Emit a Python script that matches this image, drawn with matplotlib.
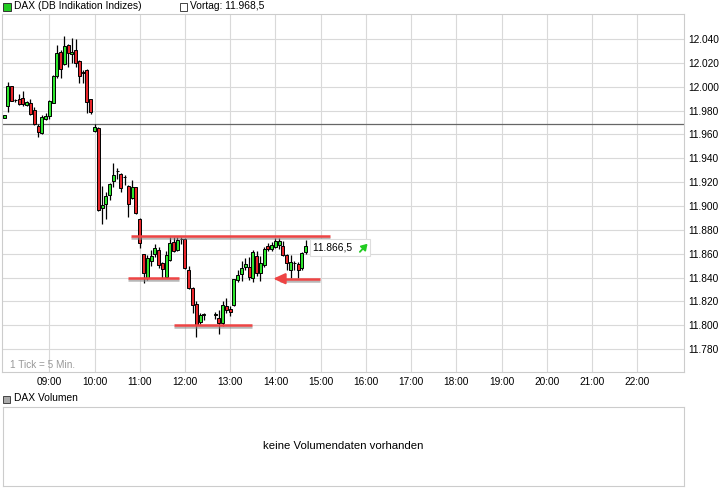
import matplotlib
matplotlib.use("Agg")
import matplotlib.pyplot as plt
import matplotlib.patheffects as pe
from matplotlib.patches import Rectangle
import numpy as np

plt.rcParams['font.family'] = ['Liberation Sans', 'DejaVu Sans']

# ============================================================
# DATA  (DAX, 5-min candles)
# ============================================================
times = ["08:00", "08:05", "08:10", "08:15", "08:20", "08:25", "08:30", "08:35", "08:40", "08:45",
         "08:50", "08:55", "09:00", "09:05", "09:10", "09:15", "09:20", "09:25", "09:30", "09:35",
         "09:40", "09:45", "09:50", "09:55", "10:00", "10:05", "10:10", "10:15", "10:20", "10:25",
         "10:30", "10:35", "10:40", "10:45", "10:50", "10:55", "11:00", "11:05", "11:10", "11:15",
         "11:20", "11:25", "11:30", "11:35", "11:40", "11:45", "11:50", "11:55", "12:00", "12:05",
         "12:10", "12:15", "12:20", "12:25", "12:40", "12:45", "12:50", "12:55", "13:00", "13:05",
         "13:10", "13:15", "13:20", "13:25", "13:30", "13:35", "13:40", "13:45", "13:50", "13:55",
         "14:00", "14:05", "14:10", "14:15", "14:20", "14:25", "14:30", "14:35", "14:40"]
opens = [11974, 11984, 12000.5, 11989, 11989.7, 11990.3, 11984.4, 11986, 11980.5, 11967,
         11961, 11973.2, 11975.2, 11986.6, 12009.3, 12029, 12018.8, 12035, 12027.6, 12030.8,
         12021.6, 12012, 12014, 11989.4, 11962.6, 11965, 11898, 11901.4, 11909.2, 11921,
         11929.3, 11927, 11924, 11917, 11907, 11915.6, 11889, 11859.5, 11839.3, 11854,
         11860, 11863, 11852.4, 11840.7, 11854.7, 11869.5, 11863, 11872.3, 11872.3, 11846,
         11831, 11818, 11803, 11808.5, 11808.5, 11806, 11801.6, 11816, 11814, 11817,
         11838, 11843, 11849, 11849, 11839.3, 11858, 11844, 11850.5, 11866.4, 11864,
         11866, 11867, 11866.4, 11859, 11846.3, 11852, 11851, 11847.7, 11861.7]
highs = [11976, 12004, 12001, 11990, 11993.6, 11996.4, 11988, 11989.4, 11982.7, 11968.7,
         11976, 11978, 11988.5, 12009.5, 12035, 12030.8, 12042.5, 12035.5, 12040.6, 12040,
         12022.4, 12014, 12014.5, 11989.5, 11969, 11966, 11917, 11912, 11919, 11935.8,
         11931.6, 11927.5, 11926, 11917.5, 11922, 11916, 11889.5, 11860, 11859, 11862.8,
         11868, 11866, 11853, 11862.2, 11873.7, 11873.7, 11873.7, 11873.7, 11873, 11850,
         11832, 11820, 11810, 11810, 11811, 11812.7, 11820, 11822.5, 11816, 11839,
         11846, 11854, 11856, 11857, 11863, 11862, 11858, 11866, 11869, 11870,
         11873, 11873, 11871, 11860, 11859, 11854, 11853, 11861, 11871.5]
lows = [11974, 11979, 11988, 11987.5, 11985, 11983.8, 11984, 11976, 11967.6, 11958,
        11960, 11972, 11973, 11986, 12007, 12007, 12018, 12016.3, 12019.6, 12016.3,
        12002.8, 12002.8, 11978.2, 11977, 11962, 11896, 11884.5, 11889, 11904.6, 11916,
        11923, 11911.5, 11918, 11891, 11906, 11893, 11864.5, 11835, 11838, 11850,
        11857, 11848, 11839.3, 11840, 11854, 11861, 11862, 11868, 11847, 11830,
        11810, 11790, 11801.3, 11804, 11805, 11793, 11799, 11810, 11808, 11816,
        11836, 11837, 11846, 11838, 11836, 11841, 11837, 11849, 11862, 11862,
        11865, 11864, 11858, 11846, 11840, 11846, 11840, 11846, 11860]
closes = [11976, 12001, 11988.4, 11988.5, 11985.5, 11985.5, 11986.9, 11977, 11968.7, 11962.3,
          11974.3, 11975.4, 11988, 12009, 12028, 12014.6, 12034.1, 12028, 12029, 12019.6,
          12009.2, 12011.5, 11987.4, 11979, 11966.2, 11897, 11900.8, 11908.3, 11918.2, 11926,
          11929, 11915, 11924.5, 11902, 11916, 11894, 11869, 11843.5, 11856, 11858,
          11864.4, 11850.5, 11846.8, 11859, 11868.7, 11862.2, 11871.5, 11872, 11847.7, 11831,
          11817, 11800, 11808.5, 11808.8, 11808.8, 11801.6, 11817, 11812.7, 11811, 11838.5,
          11842, 11848, 11851, 11840.6, 11861, 11843.5, 11852, 11863.6, 11863.6, 11867,
          11871, 11871, 11859, 11852, 11853, 11852.3, 11846.3, 11860.3, 11866.5]

vortag = 11968.5
last_price = 11866.5

# hand drawn support / resistance lines
line_levels = [11875, 11839.5, 11800]
line_starts = ["10:48", "10:44", "11:45"]
line_ends = ["15:12", "11:52", "13:29"]
arrow_level = 11839
arrow_from = "14:59"
arrow_to = "13:57"

y_ticks = list(range(11780, 12041, 20))
x_hours = list(range(9, 23))


def to_h(t):
    hh, mm = t.split(":")
    return int(hh) + int(mm) / 60.0


def fmt_de(v, dec=0):
    s = f"{v:,.{dec}f}"
    return s.replace(",", "X").replace(".", ",").replace("X", ".")


# ============================================================
# FIGURE
# ============================================================
W, H = 726, 496
fig = plt.figure(figsize=(W / 100, H / 100), dpi=100)
GRID = "#d9d9d9"

ax = fig.add_axes([2 / W, (H - 371.7) / H, 682.3 / W, 357.7 / H])
ax.set_xlim(7.954, 23.04)
ax.set_ylim(11761, 12061)

for s in ax.spines.values():
    s.set_color("#cccccc")
    s.set_linewidth(0.8)

ax.set_yticks(y_ticks)
ax.set_yticklabels([fmt_de(v) for v in y_ticks])
ax.set_xticks(x_hours)
ax.set_xticklabels([f"{h:02d}:00" for h in x_hours])
ax.yaxis.tick_right()
ax.tick_params(axis="both", length=0, labelsize=7.3, colors="black")
ax.tick_params(axis="y", pad=2.5)
ax.tick_params(axis="x", pad=3.5)
ax.grid(True, color=GRID, linewidth=0.8, zorder=0)
ax.set_axisbelow(True)

# Vortag line
ax.axhline(vortag, color="#666666", linewidth=0.9, zorder=1)

# ---------------- candles ----------------
x = np.array([to_h(t) for t in times])
o = np.array(opens)
hi = np.array(highs)
lo = np.array(lows)
c = np.array(closes)
up = c >= o
colors = np.where(up, "#2ee62e", "#e8262b")
body_bottom = np.minimum(o, c)
body_h = np.maximum(np.abs(c - o), 0.5)
w = 3.0 / 45.23

ax.vlines(x, lo, hi, color="black", linewidth=0.9, zorder=2)
ax.bar(x, body_h, width=w, bottom=body_bottom, color=colors,
       edgecolor="black", linewidth=0.7, zorder=3)

# ---------------- red support/resistance lines ----------------
shadow = [pe.SimpleLineShadow(offset=(0, -1.3), shadow_color="#888888", alpha=0.6), pe.Normal()]
for lev, a, b in zip(line_levels, line_starts, line_ends):
    ax.plot([to_h(a), to_h(b)], [lev, lev], color="#ee4444", linewidth=1.8,
            solid_capstyle="butt", zorder=4, path_effects=shadow)

ax.plot([to_h(arrow_to) + 0.15, to_h(arrow_from)], [arrow_level, arrow_level],
        color="#ee4444", linewidth=1.8, solid_capstyle="butt", zorder=4, path_effects=shadow)
ax.annotate("", xy=(to_h(arrow_to), arrow_level), xytext=(to_h(arrow_to) + 0.2, arrow_level),
            arrowprops=dict(arrowstyle="-|>,head_length=0.7,head_width=0.32",
                            color="#ee4444", linewidth=1.6, shrinkA=0, shrinkB=0),
            zorder=5)

# ---------------- last price label ----------------
ax.text(x[-1] + 0.17, last_price - 1.5, fmt_de(last_price, 1) + "     ",
        fontsize=7.4, va="center", ha="left", zorder=6,
        bbox=dict(boxstyle="square,pad=0.35", facecolor="white", edgecolor="#dddddd", linewidth=0.8))
# small green up-arrow inside the label
ax.annotate("", xy=(x[-1] + 1.37, last_price + 1.8), xytext=(x[-1] + 1.2, last_price - 5.0),
            arrowprops=dict(arrowstyle="-|>,head_length=0.35,head_width=0.22",
                            color="#22cc22", linewidth=1.3, shrinkA=0, shrinkB=0),
            zorder=7)

# 1 Tick = 5 Min.
ax.text(8.3 / 682.3, 6.7 / 357.7, "1 Tick = 5 Min.", transform=ax.transAxes,
        fontsize=7.2, color="#999999", va="center", ha="left")

# ---------------- top legend ----------------
fig.patches.append(Rectangle((3 / W, 1 - 10.5 / H), 7.5 / W, 7.5 / H, transform=fig.transFigure,
                             facecolor="#22cc22", edgecolor="#333333", linewidth=0.7))
fig.text(14 / W, 1 - 6.3 / H, "DAX (DB Indikation Indizes)", fontsize=7.4, va="center", ha="left")
fig.patches.append(Rectangle((179.5 / W, 1 - 10.5 / H), 7.5 / W, 7.5 / H, transform=fig.transFigure,
                             facecolor="white", edgecolor="#444444", linewidth=0.7))
fig.text(190.5 / W, 1 - 6.3 / H, "Vortag: " + fmt_de(vortag, 1), fontsize=7.4, va="center", ha="left")

# ---------------- volume panel ----------------
fig.patches.append(Rectangle((3.3 / W, 1 - 402.5 / H), 7 / W, 7 / H, transform=fig.transFigure,
                             facecolor="#aaaaaa", edgecolor="#444444", linewidth=0.7))
fig.text(13.5 / W, 1 - 398.3 / H, "DAX Volumen", fontsize=7.4, va="center", ha="left")

ax2 = fig.add_axes([2.7 / W, (H - 486) / H, 681.6 / W, 79.3 / H])
ax2.set_xticks([])
ax2.set_yticks([])
for s in ax2.spines.values():
    s.set_color("#cccccc")
    s.set_linewidth(0.8)
ax2.text(0.5, 0.5, "keine Volumendaten vorhanden", transform=ax2.transAxes,
         fontsize=8.2, va="center", ha="center")

fig.savefig("out.png", dpi=100)
